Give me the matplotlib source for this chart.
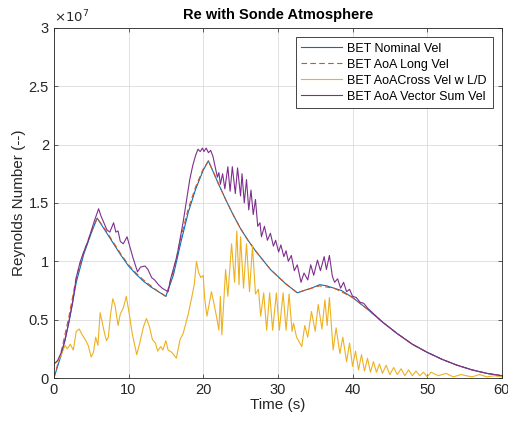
import numpy as np
import matplotlib.pyplot as plt
from matplotlib.ticker import FuncFormatter

plt.rcParams['font.family'] = ['Liberation Sans', 'DejaVu Sans']

# Reynolds numbers in units of 1e7
t_nom = [0, 1, 2, 3, 4, 5, 5.8, 7, 8, 9, 10, 11, 12, 13, 14, 15, 16, 17, 18, 19, 20, 20.7,
         22, 23, 24, 25, 26, 27, 28, 29, 30, 31, 32, 32.6, 33.5, 34.5, 35.6, 36.5, 37.5, 38.5,
         40, 42, 44, 46, 48, 50, 52, 54, 56, 58, 60]
re_nom = [0, 0.2, 0.47, 0.82, 1.06, 1.24, 1.37, 1.25, 1.15, 1.05, 0.96, 0.89, 0.83, 0.78, 0.74, 0.70,
          0.88, 1.16, 1.42, 1.62, 1.78, 1.86, 1.67, 1.53, 1.40, 1.28, 1.18, 1.09, 1.01, 0.93, 0.87,
          0.81, 0.76, 0.73, 0.75, 0.77, 0.80, 0.79, 0.77, 0.75, 0.69, 0.59, 0.48, 0.38, 0.29, 0.22,
          0.16, 0.11, 0.07, 0.04, 0.02]
re_long = [0, 0.23, 0.52, 0.86, 1.08, 1.25, 1.37, 1.26, 1.16, 1.06, 0.97, 0.90, 0.84, 0.79, 0.74, 0.70,
           0.91, 1.20, 1.45, 1.64, 1.79, 1.86, 1.67, 1.53, 1.40, 1.28, 1.18, 1.09, 1.01, 0.93, 0.87,
           0.81, 0.76, 0.73, 0.75, 0.77, 0.79, 0.78, 0.77, 0.74, 0.69, 0.59, 0.48, 0.38, 0.29, 0.22,
           0.16, 0.11, 0.07, 0.04, 0.02]

t_cross = [0, 0.5, 1.0, 1.5, 1.8, 2.2, 2.6, 3.0, 3.4, 3.8, 4.2, 4.6, 5.0, 5.3, 5.6, 5.9, 6.2, 6.5,
           6.8, 7.05, 7.3, 7.6, 7.9, 8.2, 8.6, 8.9, 9.3, 9.7, 10.1, 10.5, 11.1, 11.5, 12.0, 12.4,
           12.8, 13.2, 13.6, 13.9, 14.3, 14.6, 15.0, 15.3, 15.8, 16.4, 16.9, 17.3, 17.6, 18.0, 18.4,
           18.8, 19.1, 19.4, 19.7, 20.0, 20.2, 20.5, 20.9, 21.1, 21.5, 21.8, 22.1, 22.3, 22.5, 23.0,
           23.3, 23.8, 24.2, 24.5, 24.8, 25.0, 25.4, 25.8, 26.2, 26.6, 27.0, 27.4, 27.7, 28.1, 28.5,
           28.9, 29.3, 29.8, 30.2, 30.7, 31.1, 31.5, 31.9, 32.1, 32.5, 33.2, 33.6, 34.0, 34.5, 35.0,
           35.4, 35.9, 36.3, 36.6, 36.9, 37.4, 37.8, 38.3, 38.7, 39.2, 39.6, 40.0, 40.4, 40.8, 41.2,
           41.6, 42.0, 42.4, 42.8, 43.2, 43.6, 44.0, 44.5, 45.0, 45.5, 46.0, 46.5, 47.0, 47.5, 48.0,
           48.5, 49.0, 49.5, 50.0, 50.5, 51.5, 52.5, 53.5, 54.5, 56, 57, 58, 59, 60]
re_cross = [0.12, 0.14, 0.20, 0.28, 0.25, 0.29, 0.24, 0.40, 0.42, 0.37, 0.33, 0.28, 0.18, 0.22, 0.35,
            0.28, 0.56, 0.47, 0.38, 0.32, 0.35, 0.55, 0.68, 0.62, 0.45, 0.55, 0.60, 0.70, 0.55, 0.38,
            0.20, 0.30, 0.44, 0.51, 0.44, 0.33, 0.30, 0.23, 0.27, 0.24, 0.32, 0.24, 0.22, 0.17, 0.33,
            0.38, 0.45, 0.55, 0.67, 0.80, 1.00, 0.90, 0.86, 0.88, 0.68, 0.53, 0.67, 0.74, 0.62, 0.52,
            0.41, 0.70, 0.37, 0.93, 0.70, 1.15, 0.82, 1.26, 0.80, 1.21, 0.77, 1.15, 0.74, 1.13, 0.72,
            0.76, 0.53, 0.73, 0.41, 0.73, 0.41, 0.73, 0.41, 0.73, 0.41, 0.72, 0.40, 0.47, 0.35, 0.27,
            0.45, 0.35, 0.57, 0.40, 0.63, 0.42, 0.67, 0.45, 0.69, 0.24, 0.43, 0.21, 0.35, 0.14, 0.30,
            0.10, 0.23, 0.07, 0.20, 0.06, 0.17, 0.05, 0.14, 0.05, 0.12, 0.04, 0.11, 0.03, 0.09, 0.03,
            0.08, 0.02, 0.07, 0.02, 0.06, 0.02, 0.05, 0.01, 0.05, 0.02, 0.04, 0.01, 0.03, 0.01, 0.03,
            0.01, 0.02, 0.01]

t_vec = [0, 0.5, 1.0, 1.5, 2.0, 2.5, 3.0, 3.5, 4.0, 4.5, 5.0, 5.5, 6.0, 6.3, 6.7, 7.1, 7.5, 8.0, 8.3,
         8.6, 8.9, 9.3, 9.8, 10.2, 10.6, 11.2, 11.6, 12.2, 12.6, 13.1, 13.5, 14.0, 14.5, 15.0, 15.3,
         15.6, 16.5, 17.3, 18.2, 18.6, 19.0, 19.3, 19.6, 19.9, 20.1, 20.4, 20.7, 21.0, 21.3, 21.6,
         21.9, 22.1, 22.3, 22.6, 22.9, 23.3, 23.6, 23.9, 24.3, 24.6, 25.0, 25.2, 25.5, 25.8, 26.1,
         26.4, 26.7, 27.0, 27.3, 27.6, 27.8, 28.2, 28.6, 29.0, 29.4, 29.7, 30.1, 30.4, 30.8, 31.1,
         31.4, 31.8, 32.2, 32.6, 33.1, 33.5, 34.0, 34.4, 34.8, 35.3, 35.7, 36.2, 36.5, 36.9, 37.3,
         37.6, 38.0, 38.4, 38.8, 39.2, 39.6, 40.0, 40.5, 41.0, 41.5, 42.0, 44, 46, 48, 50, 52, 54,
         56, 58, 60]
re_vec = [0.12, 0.15, 0.22, 0.32, 0.48, 0.64, 0.86, 0.99, 1.08, 1.16, 1.26, 1.36, 1.45, 1.39, 1.33,
          1.27, 1.25, 1.33, 1.25, 1.26, 1.17, 1.15, 1.21, 1.12, 1.03, 0.91, 0.95, 0.96, 0.93, 0.86,
          0.84, 0.80, 0.77, 0.75, 0.74, 0.84, 1.05, 1.33, 1.70, 1.82, 1.91, 1.96, 1.94, 1.97, 1.94,
          1.97, 1.93, 1.95, 1.90, 1.81, 1.72, 1.76, 1.66, 1.75, 1.62, 1.81, 1.60, 1.81, 1.58, 1.80,
          1.56, 1.75, 1.50, 1.70, 1.44, 1.61, 1.40, 1.53, 1.30, 1.33, 1.21, 1.30, 1.18, 1.24, 1.13,
          1.18, 1.08, 1.14, 1.04, 1.09, 1.00, 1.05, 0.92, 0.97, 0.82, 0.90, 0.84, 0.97, 0.88, 1.01,
          0.92, 1.04, 0.93, 1.05, 0.87, 0.82, 0.85, 0.77, 0.82, 0.74, 0.76, 0.70, 0.69, 0.65, 0.64,
          0.60, 0.48, 0.38, 0.29, 0.22, 0.16, 0.11, 0.07, 0.04, 0.02]

fig = plt.figure(figsize=(5.08, 4.21), dpi=100)
ax = fig.add_axes([0.106, 0.102, 0.882, 0.832])

ax.plot(t_nom, re_nom, color='#0072BD', lw=0.8, label='BET Nominal Vel')
ax.plot(t_nom, re_long, color='#D95319', lw=0.8, ls=(0, (5, 3)), label='BET AoA Long Vel')
ax.plot(t_cross, re_cross, color='#EDB120', lw=0.8, label='BET AoACross Vel w L/D')
ax.plot(t_vec, re_vec, color='#7E2F8E', lw=0.8, label='BET AoA Vector Sum Vel')

ax.set_xlim(0, 60)
ax.set_ylim(0, 3)
ax.set_xticks(np.arange(0, 61, 10))
ax.set_yticks(np.arange(0, 3.01, 0.5))
ax.yaxis.set_major_formatter(FuncFormatter(lambda v, p: f'{v:g}'))
ax.tick_params(direction='in', top=True, right=True, length=3, width=0.5,
               labelsize=10.5, colors='#262626')
ax.grid(True, color='#dcdcdc', lw=0.6)
ax.set_axisbelow(True)
for s in ax.spines.values():
    s.set_color('#262626')
    s.set_linewidth(0.6)

ax.text(0.0, 1.008, r'$\times10^{7}$', transform=ax.transAxes, fontsize=9.5,
        color='#262626', va='bottom', ha='left')
ax.set_title('Re with Sonde Atmosphere', fontsize=10.5, fontweight='bold', pad=6)
ax.set_xlabel('Time (s)', fontsize=11, color='#262626', labelpad=1)
ax.set_ylabel('Reynolds Number (--)', fontsize=11, color='#262626', labelpad=2)

leg = ax.legend(loc='upper right', fontsize=9, fancybox=False, framealpha=1,
                edgecolor='#262626', handlelength=3.3, borderpad=0.45, labelspacing=0.32,
                handletextpad=0.4, borderaxespad=0.75)
leg.get_frame().set_linewidth(0.6)

plt.savefig('out.png', dpi=100)
